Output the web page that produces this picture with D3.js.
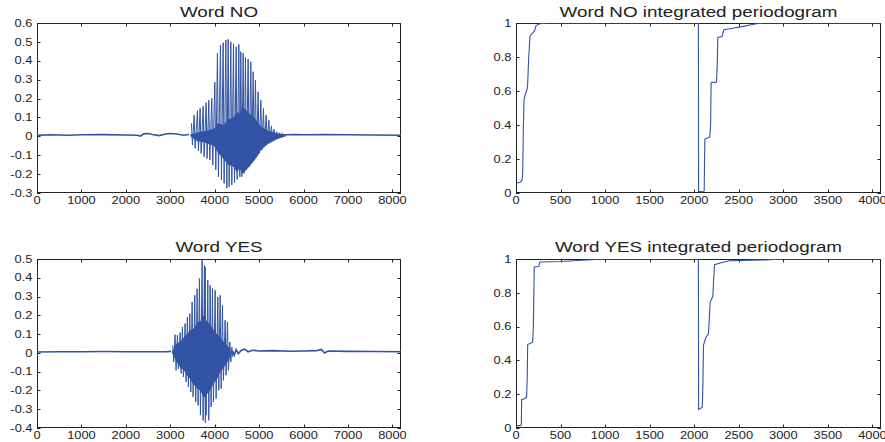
<!DOCTYPE html>
<html>
<head>
<meta charset="utf-8">
<script src="https://cdnjs.cloudflare.com/ajax/libs/d3/7.8.5/d3.min.js"></script>
<style>
  body { margin: 0; background: #fff; }
  svg { display: block; }
  text { font-family: "Liberation Sans", Arial, Helvetica, sans-serif; fill: #222; }
</style>
</head>
<body>
<div id="chart"></div>
<script>
// Word NO waveform: quiet parts [sample, value], pulses [sample, top, bottom], dense core [sample, top, bottom]
var noPre = [[0,0.005],[300,0.008],[700,0.006],[1000,0.008],[1500,0.009],[2000,0.007],[2250,0.006],
  [2330,0.001],[2400,0.013],[2500,0.015],[2600,0.01],[2750,0.004],[2900,0.012],[3000,0.015],
  [3150,0.012],[3300,0.006],[3420,0.01]];
var noPulses = [[3476,0.069,-0.046],[3536,0.113,-0.064],[3611,0.136,-0.076],[3671,0.148,-0.09],
  [3739,0.16,-0.108],[3806,0.178,-0.117],[3867,0.192,-0.125],[3934,0.201,-0.152],[4002,0.287,-0.178],
  [4061,0.44,-0.214],[4129,0.483,-0.231],[4189,0.496,-0.249],[4250,0.51,-0.275],[4302,0.514,-0.267],
  [4362,0.5,-0.258],[4422,0.49,-0.245],[4482,0.474,-0.228],[4542,0.487,-0.214],[4587,0.448,-0.214],
  [4640,0.44,-0.196],[4692,0.418,-0.178],[4752,0.408,-0.161],[4812,0.395,-0.134],[4865,0.342,-0.125],
  [4917,0.298,-0.108],[4977,0.236,-0.09],[5038,0.192,-0.073],[5097,0.148,-0.051],[5158,0.113,-0.034],
  [5218,0.086,-0.02],[5277,0.055,-0.011],[5338,0.037,-0.005],[5398,0.024,-0.002],[5458,0.019,0],
  [5518,0.016,0.002],[5578,0.012,0.004]];
var noCore = [[3450,0.01,0],[3600,0.02,-0.025],[3800,0.03,-0.035],[3980,0.04,-0.05],[4080,0.07,-0.09],
  [4200,0.06,-0.12],[4300,0.09,-0.15],[4420,0.1,-0.16],[4500,0.13,-0.19],[4560,0.12,-0.17],
  [4620,0.16,-0.2],[4700,0.14,-0.18],[4780,0.12,-0.16],[4850,0.11,-0.14],[4950,0.08,-0.11],
  [5050,0.05,-0.07],[5200,0.03,-0.04],[5400,0.015,-0.015],[5600,0.01,0]];
var noPost = [[5600,0.008],[5800,0.01],[6000,0.008],[6500,0.009],[7000,0.008],[7500,0.007],[8192,0.006]];

// Word YES waveform
var yesPre = [[0,0.005],[500,0.006],[1000,0.006],[1500,0.007],[2000,0.006],[2500,0.006],[2900,0.006],[3020,0.008]];
var yesPulses = [[3056,0.04,-0.048],[3108,0.097,-0.093],[3160,0.094,-0.084],[3221,0.108,-0.11],
  [3273,0.138,-0.128],[3333,0.156,-0.155],[3385,0.191,-0.181],[3439,0.209,-0.208],[3491,0.271,-0.235],
  [3551,0.307,-0.261],[3604,0.342,-0.279],[3656,0.396,-0.332],[3716,0.493,-0.359],[3768,0.466,-0.372],
  [3784,0.457,-0.332],[3844,0.387,-0.359],[3896,0.36,-0.288],[3949,0.342,-0.261],[4009,0.333,-0.243],
  [4069,0.298,-0.199],[4122,0.307,-0.19],[4174,0.253,-0.146],[4234,0.174,-0.119],[4286,0.165,-0.093],
  [4340,0.058,-0.048],[4385,0.031,-0.022]];
var yesCore = [[3040,0.01,0],[3150,0.05,-0.05],[3230,0.06,-0.08],[3300,0.08,-0.09],[3380,0.1,-0.12],
  [3450,0.12,-0.14],[3530,0.13,-0.17],[3600,0.16,-0.19],[3680,0.17,-0.2],[3750,0.2,-0.24],
  [3820,0.17,-0.22],[3900,0.15,-0.2],[3980,0.12,-0.16],[4050,0.1,-0.14],[4130,0.08,-0.1],
  [4200,0.06,-0.08],[4280,0.04,-0.05],[4350,0.02,-0.02]];
var yesPost = [[4400,0.01],[4440,-0.012],[4480,0.018],[4530,-0.004],[4600,0.014],[4680,0.02],[4750,0.006],
  [4850,0.014],[5000,0.01],[5300,0.012],[5700,0.009],[6000,0.01],[6300,0.012],[6400,0.018],
  [6470,0.0],[6550,0.01],[7000,0.008],[7600,0.007],[8192,0.006]];

// Integrated periodograms [frequency index, cumulative value]
var noPgram = [[0,0.057],[45,0.063],[67,0.075],[75,0.116],[82,0.37],[90,0.55],[105,0.58],[119,0.6],
  [130,0.63],[142,0.79],[157,0.92],[172,0.935],[194,0.945],[209,0.955],[224,0.985],[269,0.996],
  [380,1],[2047,1],[2049,0.008],[2100,0.01],[2112,0.012],[2119,0.317],[2175,0.33],[2184,0.4],
  [2190,0.65],[2250,0.652],[2258,0.75],[2265,0.915],[2313,0.92],[2322,0.94],[2332,0.96],
  [2418,0.968],[2548,0.98],[2623,0.988],[2698,0.996],[2780,1],[4096,1]];
var yesPgram = [[0,0.014],[52,0.014],[60,0.02],[63,0.168],[101,0.175],[119,0.185],[126,0.3],[131,0.494],
  [187,0.508],[195,0.6],[205,0.953],[257,0.955],[262,0.97],[269,0.982],[500,0.985],[800,0.994],
  [1000,1],[2047,1],[2049,0.109],[2090,0.123],[2097,0.25],[2104,0.49],[2134,0.54],[2160,0.557],
  [2170,0.65],[2179,0.745],[2209,0.779],[2218,0.88],[2228,0.966],[2302,0.978],[2396,0.99],
  [2800,0.995],[3000,1],[4096,1]];

// Axis ticks
var waveXTicks = [0,1000,2000,3000,4000,5000,6000,7000,8000];
var pgramXTicks = [0,500,1000,1500,2000,2500,3000,3500,4000];
var noYTicks = [-0.3,-0.2,-0.1,0,0.1,0.2,0.3,0.4,0.5,0.6];
var yesYTicks = [-0.4,-0.3,-0.2,-0.1,0,0.1,0.2,0.3,0.4,0.5];
var pgramYTicks = [0,0.2,0.4,0.6,0.8,1];

var width = 885, height = 442;
var blue = "#3253a4";

var svg = d3.select("#chart").append("svg")
  .attr("width", width)
  .attr("height", height);
svg.append("rect").attr("width", width).attr("height", height).attr("fill", "#fff");

/**
 * Draws an empty MATLAB style axes box with inward ticks and a title
 */
function makeAxes(id, box, xDomain, yDomain, xTicks, yTicks, title) {
  var x = d3.scaleLinear().domain(xDomain).range([box.left, box.right]);
  var y = d3.scaleLinear().domain(yDomain).range([box.bottom, box.top]);
  var g = svg.append("g");
  var fmt = function(v) { return String(+v.toFixed(2)); };

  svg.append("clipPath").attr("id", id)
    .append("rect")
    .attr("x", box.left).attr("y", box.top)
    .attr("width", box.right - box.left).attr("height", box.bottom - box.top);

  var plot = svg.append("g").attr("clip-path", "url(#" + id + ")");

  // ticks on all four sides, pointing in
  xTicks.forEach(function(v) {
    var px = Math.round(x(v)) + 0.5;
    g.append("line").attr("x1", px).attr("x2", px).attr("y1", box.bottom).attr("y2", box.bottom - 3.5);
    g.append("line").attr("x1", px).attr("x2", px).attr("y1", box.top).attr("y2", box.top + 3.5);
    g.append("text")
      .attr("text-anchor", "middle")
      .attr("font-size", "10.3px")
      .attr("transform", "translate(" + x(v) + "," + (box.bottom + 11.2) + ") scale(1.25,1)")
      .text(fmt(v));
  });
  yTicks.forEach(function(v) {
    var py = Math.round(y(v)) + 0.5;
    g.append("line").attr("x1", box.left).attr("x2", box.left + 3.5).attr("y1", py).attr("y2", py);
    g.append("line").attr("x1", box.right).attr("x2", box.right - 3.5).attr("y1", py).attr("y2", py);
    g.append("text")
      .attr("text-anchor", "end")
      .attr("font-size", "10.3px")
      .attr("transform", "translate(" + (box.left - 4.5) + "," + (y(v) + 3.7) + ") scale(1.25,1)")
      .text(fmt(v));
  });
  g.selectAll("line").attr("stroke", "#222").attr("stroke-width", 1);

  g.append("rect")
    .attr("x", box.left + 0.5).attr("y", box.top + 0.5)
    .attr("width", box.right - box.left - 1).attr("height", box.bottom - box.top - 1)
    .attr("fill", "none").attr("stroke", "#222").attr("stroke-width", 1);

  g.append("text")
    .attr("text-anchor", "middle")
    .attr("font-size", "14.5px")
    .attr("transform", "translate(" + (box.left + box.right) / 2 + "," + box.title + ") scale(1.3,1)")
    .text(title);

  return {x: x, y: y, plot: plot};
}

/**
 * Draws a speech waveform: quiet stretches, the voiced pulses and their dense core
 */
function drawWave(ax, pre, pulses, core, post) {
  var line = d3.line().x(function(d) { return ax.x(d[0]); }).y(function(d) { return ax.y(d[1]); });
  var area = d3.area()
    .x(function(d) { return ax.x(d[0]); })
    .y0(function(d) { return ax.y(d[2]); })
    .y1(function(d) { return ax.y(d[1]); });

  ax.plot.append("path").datum(core)
    .attr("d", area).attr("fill", blue);

  // each pulse swings from its top to its bottom
  var zig = [];
  pulses.forEach(function(d) {
    zig.push([d[0], d[1]]);
    zig.push([d[0] + 22, d[2]]);
  });
  ax.plot.append("path").datum(zig)
    .attr("d", line).attr("fill", "none").attr("stroke", blue).attr("stroke-width", 1);

  [pre, post].forEach(function(s) {
    ax.plot.append("path").datum(s)
      .attr("d", line).attr("fill", "none").attr("stroke", blue).attr("stroke-width", 1.6);
  });
}

function drawPgram(ax, data) {
  var line = d3.line().x(function(d) { return ax.x(d[0]); }).y(function(d) { return ax.y(d[1]); });
  ax.plot.append("path").datum(data)
    .attr("d", line).attr("fill", "none").attr("stroke", blue).attr("stroke-width", 1.1);
}

var noAx = makeAxes("c1", {left: 37, right: 401, top: 23, bottom: 193, title: 16.5},
  [0, 8192], [-0.3, 0.6], waveXTicks, noYTicks, "Word NO");
drawWave(noAx, noPre, noPulses, noCore, noPost);

var noPAx = makeAxes("c2", {left: 516, right: 881, top: 23, bottom: 193, title: 16.5},
  [0, 4096], [0, 1], pgramXTicks, pgramYTicks, "Word NO integrated periodogram");
drawPgram(noPAx, noPgram);

var yesAx = makeAxes("c3", {left: 37, right: 401, top: 259, bottom: 428, title: 251.5},
  [0, 8192], [-0.4, 0.5], waveXTicks, yesYTicks, "Word YES");
drawWave(yesAx, yesPre, yesPulses, yesCore, yesPost);

var yesPAx = makeAxes("c4", {left: 516, right: 881, top: 259, bottom: 428, title: 251.5},
  [0, 4096], [0, 1], pgramXTicks, pgramYTicks, "Word YES integrated periodogram");
drawPgram(yesPAx, yesPgram);
</script>
</body>
</html>
